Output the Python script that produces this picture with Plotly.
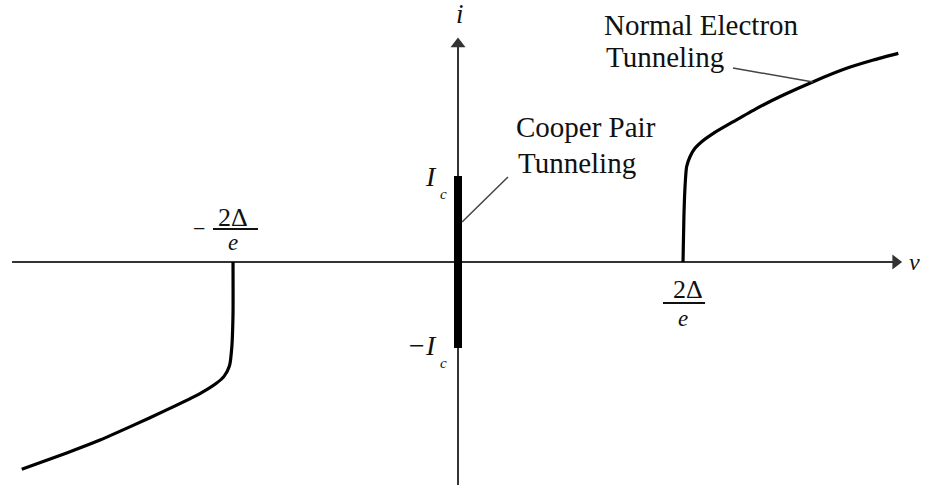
import plotly.graph_objects as go

# Josephson junction I-V characteristic.
# Voltage in units of the gap voltage 2Δ/e, current in units of the critical current I_c.

# Quasiparticle (normal electron) branch for positive bias
pos_v = [1.000, 1.004, 1.009, 1.016, 1.031, 1.053, 1.083, 1.135, 1.224, 1.328, 1.446, 1.579, 1.727, 1.846, 1.957]
pos_i = [0.000, 0.527, 0.876, 1.108, 1.224, 1.322, 1.399, 1.496, 1.632, 1.787, 1.942, 2.097, 2.252, 2.349, 2.426]

# Quasiparticle branch for negative bias
neg_v = [-1.000, -1.000, -1.005, -1.016, -1.040, -1.074, -1.147, -1.295, -1.444, -1.591, -1.739, -1.939]
neg_i = [0.000, -0.600, -0.980, -1.210, -1.330, -1.410, -1.530, -1.720, -1.900, -2.070, -2.220, -2.410]

# Supercurrent (Cooper pair) branch at zero voltage
pair_v = [0.0, 0.0]
pair_i = [-1.0, 1.0]

# Extent of the drawn axes
v_axis = [-1.982, 1.945]
i_axis = [-2.593, 2.535]

# Leader lines from the captions to the curves
cooper_leader_v = [0.222, 0.018]
cooper_leader_i = [0.988, 0.465]
normal_leader_v = [1.222, 1.578]
normal_leader_i = [2.256, 2.093]

INK = "#111111"
AXIS = "#333333"
SERIF = "Liberation Serif, Times New Roman, serif"

fig = go.Figure()

# Axes lines
fig.add_trace(go.Scatter(x=v_axis, y=[0, 0], mode="lines", line=dict(color=AXIS, width=2)))
fig.add_trace(go.Scatter(x=[0, 0], y=i_axis, mode="lines", line=dict(color=AXIS, width=2)))
# Arrowheads at the positive ends
fig.add_trace(go.Scatter(x=[v_axis[1]], y=[0], mode="markers",
                         marker=dict(symbol="triangle-right", size=13, color=AXIS, line=dict(width=0))))
fig.add_trace(go.Scatter(x=[0], y=[i_axis[1]], mode="markers",
                         marker=dict(symbol="triangle-up", size=13, color=AXIS, line=dict(width=0))))

fig.add_trace(go.Scatter(x=pos_v, y=pos_i, mode="lines",
                         line=dict(color="black", width=3.2, shape="spline", smoothing=0.6)))
fig.add_trace(go.Scatter(x=neg_v, y=neg_i, mode="lines",
                         line=dict(color="black", width=3.2, shape="spline", smoothing=0.6)))
fig.add_trace(go.Scatter(x=pair_v, y=pair_i, mode="lines",
                         line=dict(color="black", width=8)))
fig.add_trace(go.Scatter(x=cooper_leader_v, y=cooper_leader_i, mode="lines",
                         line=dict(color="#444444", width=1.5)))
fig.add_trace(go.Scatter(x=normal_leader_v, y=normal_leader_i, mode="lines",
                         line=dict(color="#444444", width=1.5)))

annotations = []


def label(text, x, y, size, xanchor="center", italic=False):
    if italic:
        text = "<i>" + text + "</i>"
    annotations.append(dict(x=x, y=y, xref="x", yref="y", text=text, showarrow=False,
                            xanchor=xanchor, yanchor="middle", borderpad=0,
                            font=dict(family=SERIF, size=size, color=INK)))


# Axis names
label("i", 0.009, 2.884, 27, italic=True)
label("v", 2.031, 0.0, 24, italic=True)

# Critical current marks (I with a lowered c)
label("I", -0.088, 1.000, 28, xanchor="right", italic=True)
label("c", -0.086, 0.790, 15, xanchor="left", italic=True)
label("−I", -0.088, -0.975, 28, xanchor="right", italic=True)
label("c", -0.086, -1.170, 15, xanchor="left", italic=True)

# Gap voltage fractions
label("2Δ", -1.002, 0.512, 26)
label("e", -1.000, 0.225, 23, italic=True)
label("−", -1.150, 0.395, 22)
label("2Δ", 1.022, -0.314, 26)
label("e", 1.000, -0.660, 23, italic=True)

# Captions
label("Cooper Pair", 0.253, 1.570, 29, xanchor="left")
label("Tunneling", 0.262, 1.150, 29, xanchor="left")
label("Normal Electron", 0.644, 2.755, 29, xanchor="left")
label("Tunneling", 0.652, 2.380, 29, xanchor="left")

# Fraction bars
shapes = [
    dict(type="line", xref="x", yref="y", x0=-1.089, x1=-0.889, y0=0.384, y1=0.384,
         line=dict(color=INK, width=1.8)),
    dict(type="line", xref="x", yref="y", x0=0.911, x1=1.098, y0=-0.477, y1=-0.477,
         line=dict(color=INK, width=1.8)),
]

fig.update_layout(
    width=929, height=493,
    margin=dict(l=0, r=0, t=0, b=0),
    paper_bgcolor="white", plot_bgcolor="white",
    showlegend=False,
    xaxis=dict(range=[-2.0356, 2.0933], visible=False, fixedrange=True),
    yaxis=dict(range=[-2.686, 3.0465], visible=False, fixedrange=True),
    annotations=annotations,
    shapes=shapes,
)

fig.write_html("out.html")
